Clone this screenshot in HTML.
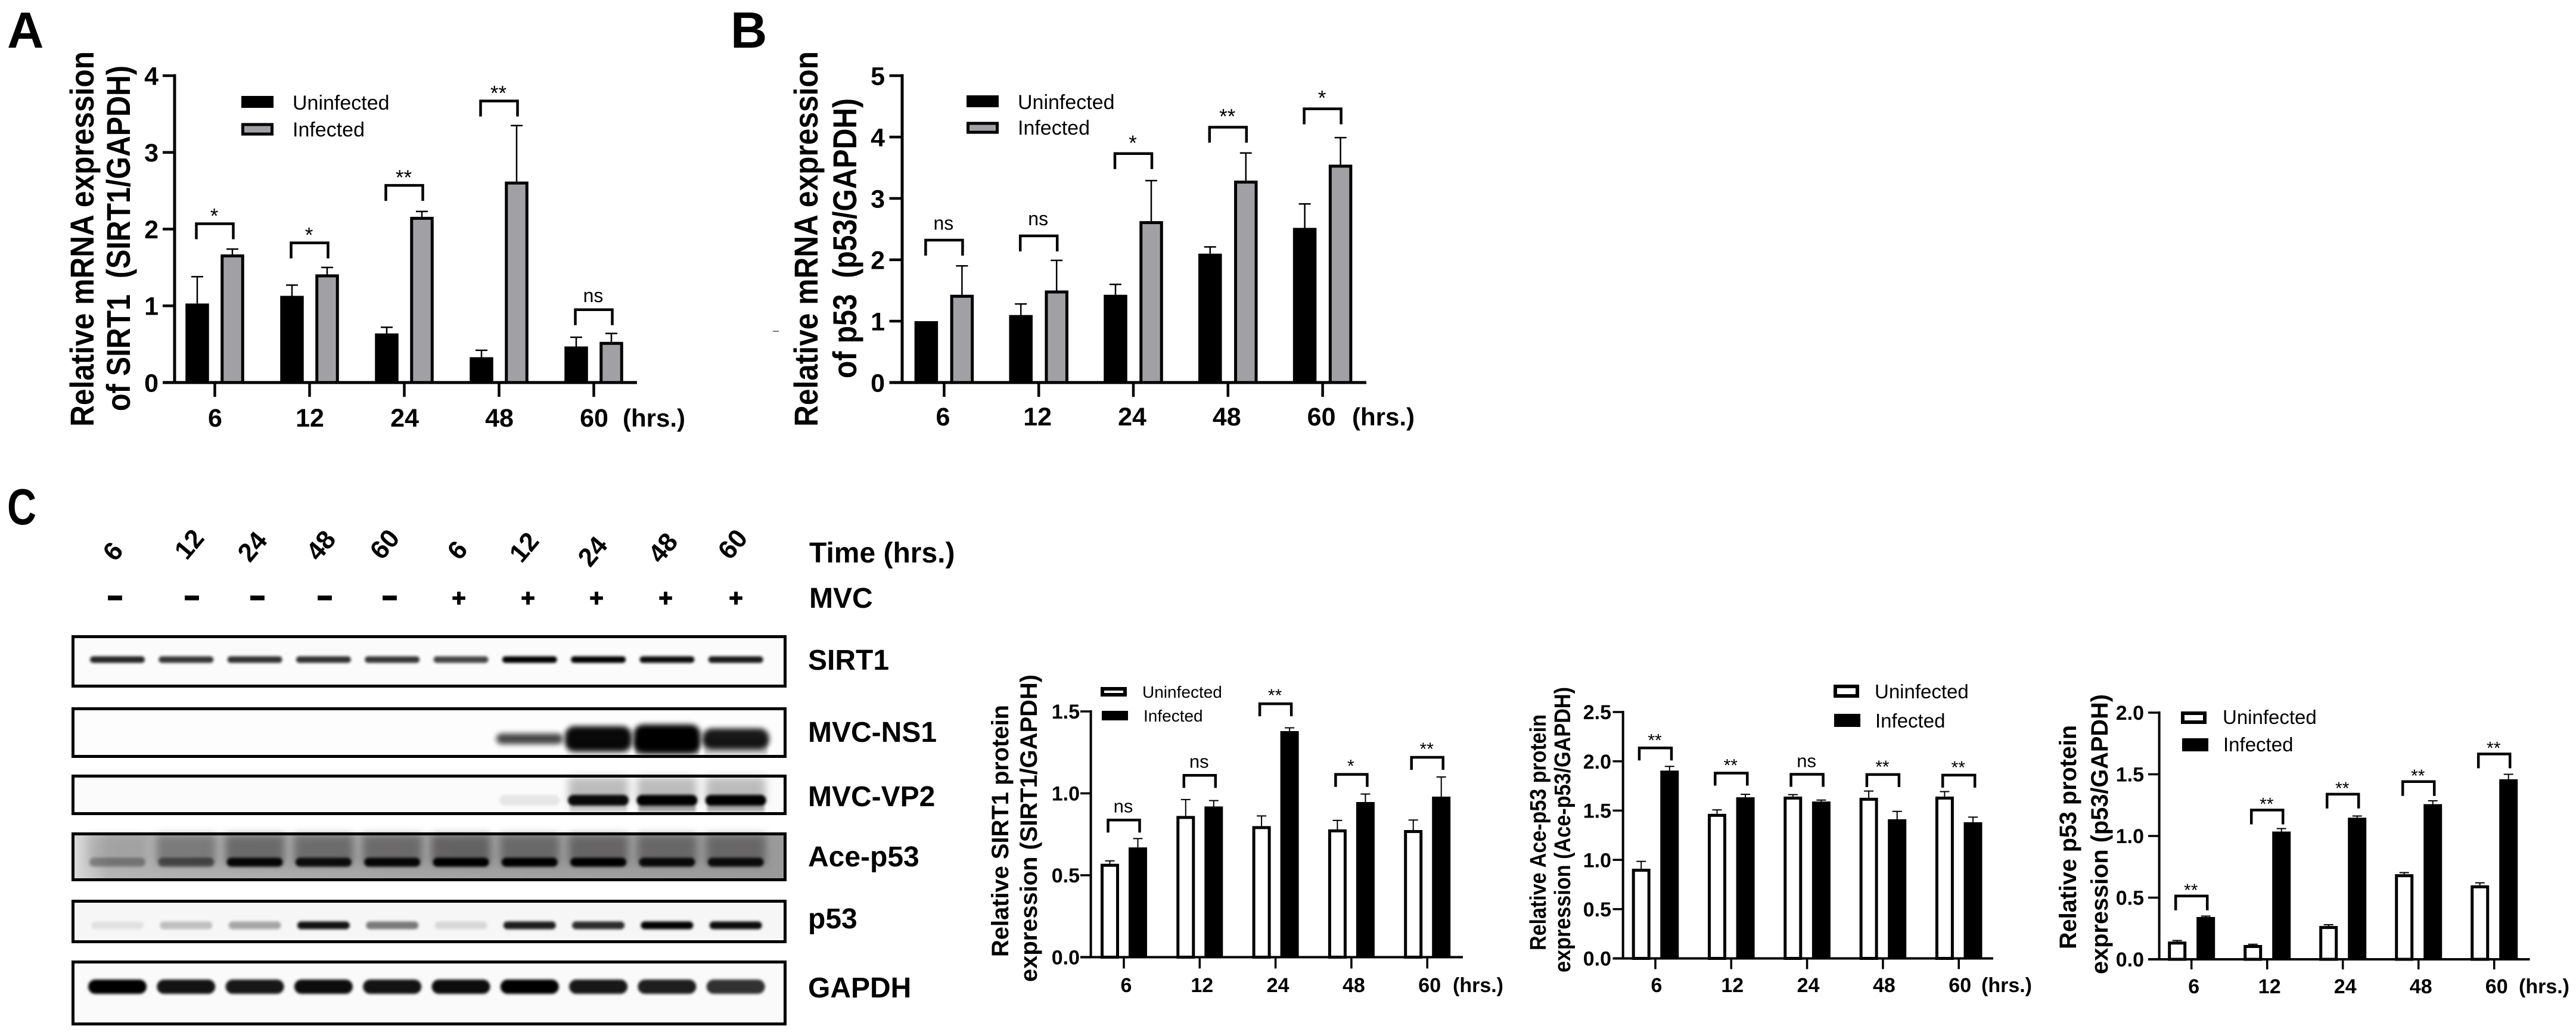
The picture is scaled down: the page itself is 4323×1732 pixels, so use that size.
<!DOCTYPE html>
<html lang="en">
<head>
<meta charset="utf-8">
<title>MVC infection: SIRT1, p53 and Ace-p53 expression</title>
<style>
html,body{margin:0;padding:0;background:#fff;}
svg{display:block;}
text{font-family:"Liberation Sans",Arial,sans-serif;fill:#000;}
.b{font-weight:700;}
.panel{font-weight:700;font-size:85px;}
.blot{font-weight:700;font-size:48px;}
.time{font-weight:700;font-size:44px;}
</style>
</head>
<body>
<svg id="figure" xmlns="http://www.w3.org/2000/svg" width="4323" height="1732" viewBox="0 0 4323 1732">
<defs>
<filter id="blur-sm" x="-20%" y="-100%" width="140%" height="300%"><feGaussianBlur stdDeviation="2.5"/></filter>
<filter id="blur-md" x="-20%" y="-80%" width="140%" height="260%"><feGaussianBlur stdDeviation="4.5"/></filter>
<filter id="blur-lg" x="-20%" y="-80%" width="140%" height="260%"><feGaussianBlur stdDeviation="7"/></filter>
<linearGradient id="ace-bg" x1="0" x2="1" y1="0" y2="0">
<stop offset="0" stop-color="#dcdcdc"/><stop offset="0.05" stop-color="#b4b4b4"/><stop offset="0.5" stop-color="#a4a4a4"/><stop offset="1" stop-color="#9a9a9a"/>
</linearGradient>
</defs>
<rect width="4323" height="1732" fill="#fff"/>

<text class="panel" x="12" y="80">A</text>
<text class="panel" x="1226" y="80">B</text>
<text class="panel" transform="translate(12,880) scale(0.8,1)">C</text>

<g id="chart-a">
<text class="b" font-size="56" transform="translate(157,716) rotate(-90)" textLength="630" lengthAdjust="spacingAndGlyphs">Relative mRNA expression</text>
<text class="b" font-size="56" transform="translate(218,690) rotate(-90)" textLength="580" lengthAdjust="spacingAndGlyphs">of SIRT1&#160;&#160;(SIRT1/GAPDH)</text>
<rect x="405" y="161" width="54" height="20" fill="#000"/>
<rect x="407.5" y="209" width="49" height="16" fill="#a1a1a5" stroke="#000" stroke-width="5"/>
<text x="491" y="184" font-size="34">Uninfected</text>
<text x="491" y="229" font-size="34">Infected</text>
<text class="b" x="1045" y="716" font-size="42">(hrs.)</text>
</g>

<g id="chart-b">
<text class="b" font-size="56" transform="translate(1372,716) rotate(-90)" textLength="630" lengthAdjust="spacingAndGlyphs">Relative mRNA expression</text>
<text class="b" font-size="56" transform="translate(1437,635) rotate(-90)" textLength="470" lengthAdjust="spacingAndGlyphs">of p53&#160;&#160;(p53/GAPDH)</text>
<rect x="1622" y="160" width="54" height="20" fill="#000"/>
<rect x="1624.5" y="207" width="49" height="15" fill="#a1a1a5" stroke="#000" stroke-width="5"/>
<text x="1708" y="183" font-size="34">Uninfected</text>
<text x="1708" y="226" font-size="34">Infected</text>
<text class="b" x="2269" y="714" font-size="42">(hrs.)</text>
<rect x="1297" y="555" width="10" height="2" fill="#777"/>
</g>

<g id="western-blot">
<g>
<text class="time" text-anchor="middle" transform="translate(201,935) rotate(-50)">6</text>
<text class="time" text-anchor="middle" transform="translate(329,923) rotate(-50)">12</text>
<text class="time" text-anchor="middle" transform="translate(435,927) rotate(-50)">24</text>
<text class="time" text-anchor="middle" transform="translate(550,925) rotate(-50)">48</text>
<text class="time" text-anchor="middle" transform="translate(657,923) rotate(-50)">60</text>
<text class="time" text-anchor="middle" transform="translate(779,933) rotate(-50)">6</text>
<text class="time" text-anchor="middle" transform="translate(891,928) rotate(-50)">12</text>
<text class="time" text-anchor="middle" transform="translate(1006,935) rotate(-50)">24</text>
<text class="time" text-anchor="middle" transform="translate(1124,929) rotate(-50)">48</text>
<text class="time" text-anchor="middle" transform="translate(1241,923) rotate(-50)">60</text>
</g>
<g font-size="40" font-weight="700" text-anchor="middle">
<text x="193" y="1014" stroke="#000" stroke-width="4">–</text>
<text x="322" y="1014" stroke="#000" stroke-width="4">–</text>
<text x="432" y="1014" stroke="#000" stroke-width="4">–</text>
<text x="545" y="1014" stroke="#000" stroke-width="4">–</text>
<text x="654" y="1014" stroke="#000" stroke-width="4">–</text>
<text x="770" y="1017" stroke="#000" stroke-width="1.5">+</text>
<text x="886" y="1017" stroke="#000" stroke-width="1.5">+</text>
<text x="1001" y="1017" stroke="#000" stroke-width="1.5">+</text>
<text x="1117" y="1017" stroke="#000" stroke-width="1.5">+</text>
<text x="1235" y="1017" stroke="#000" stroke-width="1.5">+</text>
</g>
<text class="blot" x="1358" y="944">Time (hrs.)</text>
<text class="blot" x="1358" y="1020">MVC</text>
<text class="blot" x="1356" y="1124">SIRT1</text>
<text class="blot" x="1356" y="1245">MVC-NS1</text>
<text class="blot" x="1356" y="1353">MVC-VP2</text>
<text class="blot" x="1356" y="1454">Ace-p53</text>
<text class="blot" x="1356" y="1558">p53</text>
<text class="blot" x="1356" y="1674">GAPDH</text>
<g id="blots"></g>
</g>

<g id="chart-c1">
<text class="b" font-size="40" transform="translate(1692,1606) rotate(-90)" textLength="423" lengthAdjust="spacingAndGlyphs">Relative SIRT1 protein</text>
<text class="b" font-size="40" transform="translate(1740,1648) rotate(-90)" textLength="516" lengthAdjust="spacingAndGlyphs">expression (SIRT1/GAPDH)</text>
<rect x="1850" y="1156" width="38" height="10" fill="#fff" stroke="#000" stroke-width="6"/>
<rect x="1849" y="1193" width="44" height="16" fill="#000"/>
<text x="1917" y="1171" font-size="28">Uninfected</text>
<text x="1919" y="1211" font-size="28">Infected</text>
<text class="b" x="2438" y="1665" font-size="34">(hrs.)</text>
</g>

<g id="chart-c2">
<text class="b" font-size="38" transform="translate(2594,1595) rotate(-90)" textLength="396" lengthAdjust="spacingAndGlyphs">Relative Ace-p53 protein</text>
<text class="b" font-size="38" transform="translate(2635,1632) rotate(-90)" textLength="479" lengthAdjust="spacingAndGlyphs">expression (Ace-p53/GAPDH)</text>
<rect x="3080" y="1152" width="37" height="16" fill="#fff" stroke="#000" stroke-width="6"/>
<rect x="3078" y="1198" width="44" height="22" fill="#000"/>
<text x="3146" y="1172" font-size="33">Uninfected</text>
<text x="3147" y="1221" font-size="33">Infected</text>
<text class="b" x="3325" y="1665" font-size="34">(hrs.)</text>
</g>

<g id="chart-c3">
<text class="b" font-size="40" transform="translate(3484,1593) rotate(-90)" textLength="376" lengthAdjust="spacingAndGlyphs">Relative p53 protein</text>
<text class="b" font-size="40" transform="translate(3537,1635) rotate(-90)" textLength="470" lengthAdjust="spacingAndGlyphs">expression (p53/GAPDH)</text>
<rect x="3663" y="1197" width="37" height="15" fill="#fff" stroke="#000" stroke-width="6"/>
<rect x="3662" y="1239" width="44" height="22" fill="#000"/>
<text x="3730" y="1215" font-size="33">Uninfected</text>
<text x="3731" y="1261" font-size="33">Infected</text>
<text class="b" x="4227" y="1667" font-size="34">(hrs.)</text>
</g>
</svg>

<script>
const hours = ['6', '12', '24', '48', '60'];

const aUninfected = [1.03, 1.13, 0.64, 0.33, 0.47];
const aUninfectedErr = [0.35, 0.14, 0.08, 0.09, 0.12];
const aInfected = [1.67, 1.41, 2.16, 2.62, 0.53];
const aInfectedErr = [0.07, 0.09, 0.07, 0.73, 0.11];
const aBrackets = [2.07, 1.82, 2.57, 3.67, 0.95];
const aSig = ['*', '*', '**', '**', 'ns'];
const aTicks = ['0', '1', '2', '3', '4'];

const bUninfected = [1.0, 1.10, 1.43, 2.10, 2.52];
const bUninfectedErr = [0, 0.18, 0.17, 0.11, 0.39];
const bInfected = [1.43, 1.50, 2.63, 3.29, 3.55];
const bInfectedErr = [0.47, 0.49, 0.66, 0.45, 0.44];
const bBrackets = [2.32, 2.39, 3.73, 4.16, 4.46];
const bSig = ['ns', 'ns', '*', '**', '*'];
const bTicks = ['0', '1', '2', '3', '4', '5'];

const c1Uninfected = [0.57, 0.862, 0.80, 0.78, 0.776];
const c1UninfectedErr = [0.018, 0.10, 0.062, 0.055, 0.061];
const c1Infected = [0.67, 0.92, 1.38, 0.947, 0.98];
const c1InfectedErr = [0.054, 0.036, 0.02, 0.049, 0.12];
const c1Brackets = [0.837, 1.11, 1.547, 1.116, 1.22];
const c1Sig = ['ns', 'ns', '**', '*', '**'];
const c1Ticks = ['0.0', '0.5', '1.0', '1.5'];

const c2Uninfected = [0.91, 1.467, 1.642, 1.63, 1.642];
const c2UninfectedErr = [0.075, 0.04, 0.02, 0.068, 0.051];
const c2Infected = [1.906, 1.635, 1.592, 1.412, 1.382];
const c2InfectedErr = [0.042, 0.03, 0.015, 0.08, 0.052];
const c2Brackets = [2.136, 1.88, 1.868, 1.866, 1.86];
const c2Sig = ['**', '**', 'ns', '**', '**'];
const c2Ticks = ['0.0', '0.5', '1.0', '1.5', '2.0', '2.5'];

const c3Uninfected = [0.144, 0.116, 0.27, 0.69, 0.60];
const c3UninfectedErr = [0.008, 0.006, 0.01, 0.013, 0.02];
const c3Infected = [0.343, 1.036, 1.148, 1.258, 1.46];
const c3InfectedErr = [0.007, 0.024, 0.014, 0.027, 0.04];
const c3Brackets = [0.513, 1.21, 1.339, 1.441, 1.665];
const c3Sig = ['**', '**', '**', '**', '**'];
const c3Ticks = ['0.0', '0.5', '1.0', '1.5', '2.0'];

/* blot band intensities per lane, 0..1 */
const sirt1Bands = [0.85, 0.78, 0.8, 0.8, 0.78, 0.72, 1, 1, 0.95, 0.9];
const ns1Bands = [0, 0, 0, 0, 0, 0, 0.72, 0.96, 1, 0.9];
const ns1Under = [0, 0, 0, 0, 0, 0, 0, 0.12, 0.45, 0.3];
const vp2Bands = [0, 0, 0, 0, 0, 0, 0.08, 0.95, 1, 1];
const vp2Smear = [0, 0, 0, 0, 0, 0, 0, 0.35, 0.35, 0.35];
const vp2Under = [0, 0, 0, 0, 0, 0, 0, 0.25, 0.5, 0.45];
const aceBands = [0.3, 0.5, 0.95, 0.9, 0.95, 1, 1, 1, 0.92, 0.9];
const aceSmear = [0.15, 0.5, 0.65, 0.62, 0.62, 0.7, 0.62, 0.66, 0.62, 0.62];
const p53Bands = [0.08, 0.22, 0.32, 0.92, 0.5, 0.12, 0.88, 0.82, 1, 0.95];
const gapdhBands = [1, 0.92, 0.9, 0.95, 0.92, 0.95, 1, 0.9, 0.88, 0.8];

const SVGNS = 'http://www.w3.org/2000/svg';
function make(tag, attrs, parent, content) {
  const node = document.createElementNS(SVGNS, tag);
  for (const k in attrs) node.setAttribute(k, attrs[k]);
  if (content !== undefined) node.textContent = content;
  parent.appendChild(node);
  return node;
}

function drawChart(cfg) {
  const root = document.getElementById(cfg.id);
  const yMax = Number(cfg.ticks[cfg.ticks.length - 1]);
  const yScale = v => cfg.y0 - (v / yMax) * (cfg.y0 - cfg.yTop);
  const xScale = i => cfg.x0 + i * cfg.step;
  const bw = cfg.barW;

  function bar(cx, value, style, series, i) {
    const top = yScale(value);
    const sw = cfg.sw;
    const rect = style === 'solid'
      ? make('rect', { x: cx - bw / 2, y: top, width: bw, height: cfg.y0 - top, fill: '#000' }, root)
      : make('rect', { x: cx - bw / 2 + sw / 2, y: top + sw / 2, width: bw - sw, height: Math.max(0, cfg.y0 - top - sw / 2), fill: style, stroke: '#000', 'stroke-width': sw }, root);
    
    
  }
  function errorBar(cx, value, err, series, i) {
    if (err <= 0) return;
    const top = yScale(value + err);
    const line = make('path', { d: 'M' + cx + ' ' + yScale(value) + 'V' + top + 'M' + (cx - cfg.cap) + ' ' + top + 'H' + (cx + cfg.cap), stroke: '#000', 'stroke-width': cfg.errW, fill: 'none' }, root);
    
    
  }

  hours.forEach((h, i) => {
    const cx = xScale(i);
    errorBar(cx - cfg.off, cfg.uninfected[i], cfg.uninfectedErr[i], 'uninfected', i);
    errorBar(cx + cfg.off, cfg.infected[i], cfg.infectedErr[i], 'infected', i);
    bar(cx - cfg.off, cfg.uninfected[i], cfg.uStyle, 'uninfected', i);
    bar(cx + cfg.off, cfg.infected[i], cfg.iStyle, 'infected', i);

    const by = yScale(cfg.brackets[i]);
    const br = make('path', { d: 'M' + (cx - cfg.brHalf) + ' ' + (by + cfg.brDrop) + 'V' + by + 'H' + (cx + cfg.brHalf) + 'V' + (by + cfg.brDrop), stroke: '#000', 'stroke-width': cfg.brW, fill: 'none' }, root);
    
    

    const isNs = cfg.sig[i] === 'ns';
    const fs = isNs ? cfg.nsFont : cfg.starFont;
    const cy = by - cfg.labelGap;
    const sig = make('text', { x: cx - 1, y: cy + (isNs ? 0.26 : 0.57) * fs, 'font-size': fs, 'text-anchor': 'middle' }, root, cfg.sig[i]);
    
    

    const t = make('rect', { x: cx - cfg.tickW / 2, y: cfg.y0, width: cfg.tickW, height: cfg.tickLen, fill: '#000' }, root);
    
    

    const lab = make('text', { x: cx + cfg.labShift, y: cfg.xLabY, 'font-size': cfg.xFont, 'font-weight': 700, 'text-anchor': 'middle' }, root, h);
    
    
  });

  const yAxis = make('rect', { x: cfg.axisX - cfg.axW / 2, y: cfg.yTop - cfg.axW / 2, width: cfg.axW, height: cfg.y0 - cfg.yTop + cfg.axW / 2, fill: '#000' }, root);
  
  
  const xAxis = make('rect', { x: cfg.xLeft, y: cfg.y0 - cfg.axW / 2, width: cfg.xRight - cfg.xLeft, height: cfg.axW, fill: '#000' }, root);
  
  

  cfg.ticks.forEach(tk => {
    const y = yScale(Number(tk));
    const t = make('rect', { x: cfg.xLeft, y: y - cfg.tickW / 2, width: cfg.axisX - cfg.xLeft, height: cfg.tickW, fill: '#000' }, root);
    
    
    const lab = make('text', { x: cfg.yLabX, y: y + 0.36 * cfg.yFont, 'font-size': cfg.yFont, 'font-weight': 700, 'text-anchor': 'end' }, root, tk);
    
    
  });
}

const GREY = '#a1a1a5';
drawChart({ id: 'chart-a', x0: 360.5, step: 159, axisX: 293, xLeft: 273, xRight: 1069, yTop: 127, y0: 642,
  ticks: aTicks, uninfected: aUninfected, uninfectedErr: aUninfectedErr, infected: aInfected, infectedErr: aInfectedErr,
  brackets: aBrackets, sig: aSig, uStyle: 'solid', iStyle: GREY, barW: 39.5, off: 29.5, sw: 5, cap: 10, errW: 2.5,
  brHalf: 31, brDrop: 26, brW: 4.5, labelGap: 21, nsFont: 32, starFont: 35, tickW: 4.5, tickLen: 24, axW: 5,
  xLabY: 716, xFont: 43, labShift: 0.5, yLabX: 266, yFont: 43 });
drawChart({ id: 'chart-b', x0: 1584.4, step: 158.8, axisX: 1514, xLeft: 1492.5, xRight: 2293, yTop: 127, y0: 642,
  ticks: bTicks, uninfected: bUninfected, uninfectedErr: bUninfectedErr, infected: bInfected, infectedErr: bInfectedErr,
  brackets: bBrackets, sig: bSig, uStyle: 'solid', iStyle: GREY, barW: 39.5, off: 30, sw: 5, cap: 10, errW: 2.5,
  brHalf: 31, brDrop: 26, brW: 4.5, labelGap: 26, nsFont: 32, starFont: 35, tickW: 4.5, tickLen: 24, axW: 5,
  xLabY: 714, xFont: 43, labShift: -2, yLabX: 1485, yFont: 43 });
drawChart({ id: 'chart-c1', x0: 1886, step: 127.3, axisX: 1830.6, xLeft: 1813, xRight: 2455, yTop: 1194, y0: 1606.4,
  ticks: c1Ticks, uninfected: c1Uninfected, uninfectedErr: c1UninfectedErr, infected: c1Infected, infectedErr: c1InfectedErr,
  brackets: c1Brackets, sig: c1Sig, uStyle: '#fff', iStyle: 'solid', barW: 31, off: 23.5, sw: 5, cap: 8, errW: 2,
  brHalf: 26.5, brDrop: 21, brW: 4.5, labelGap: 21, nsFont: 31, starFont: 30, tickW: 3.5, tickLen: 19, axW: 4,
  xLabY: 1665, xFont: 34, labShift: 4, yLabX: 1812, yFont: 34 });
drawChart({ id: 'chart-c2', x0: 2778, step: 127.3, axisX: 2723.7, xLeft: 2706.5, xRight: 3345, yTop: 1195, y0: 1608.5,
  ticks: c2Ticks, uninfected: c2Uninfected, uninfectedErr: c2UninfectedErr, infected: c2Infected, infectedErr: c2InfectedErr,
  brackets: c2Brackets, sig: c2Sig, uStyle: '#fff', iStyle: 'solid', barW: 31, off: 23.8, sw: 5, cap: 8, errW: 2,
  brHalf: 27, brDrop: 21, brW: 4.5, labelGap: 20, nsFont: 31, starFont: 30, tickW: 3.5, tickLen: 18, axW: 4,
  xLabY: 1665, xFont: 34, labShift: 2, yLabX: 2704, yFont: 34 });
drawChart({ id: 'chart-c3', x0: 3677.7, step: 127, axisX: 3623.6, xLeft: 3605, xRight: 4245.5, yTop: 1196, y0: 1610,
  ticks: c3Ticks, uninfected: c3Uninfected, uninfectedErr: c3UninfectedErr, infected: c3Infected, infectedErr: c3InfectedErr,
  brackets: c3Brackets, sig: c3Sig, uStyle: '#fff', iStyle: 'solid', barW: 31, off: 24, sw: 5, cap: 8, errW: 2,
  brHalf: 26.5, brDrop: 24, brW: 4.5, labelGap: 17, nsFont: 31, starFont: 30, tickW: 3.5, tickLen: 17, axW: 4,
  xLabY: 1667, xFont: 34, labShift: 4, yLabX: 3598, yFont: 34 });

/* ---------- western blots ---------- */
const blotRoot = document.getElementById('blots');
const laneX = i => 197 + i * 115.3;
function drawBlot(b) {
  const g = make('g', {}, blotRoot);
  
  
  const bg = make('rect', { x: 122, y: b.top + 2, width: 1196, height: b.bottom - b.top - 4, fill: b.bg }, g);
  
  
  if (b.smear) {
    b.smear.forEach((s, i) => {
      if (s <= 0) return;
      const sm = make('rect', { x: laneX(i) - 50, y: b.top + 4, width: 100, height: b.bandY - b.top, fill: '#4a4646', opacity: s, filter: 'url(#blur-lg)' }, g);
      
      
    });
  }
  if (b.under) {
    b.under.forEach((s, i) => {
      if (s <= 0) return;
      const un = make('rect', { x: laneX(i) - b.bandW / 2 + 3, y: b.bandY, width: b.bandW - 6, height: b.bottom - b.bandY - 6, fill: '#4a4646', opacity: s, filter: 'url(#blur-sm)' }, g);
      
      
    });
  }
  b.bands.forEach((v, i) => {
    if (v <= 0) return;
    const h = b.bandH * (b.grow ? v * v * v : 1);
    const band = make('rect', { x: laneX(i) - b.bandW / 2, y: b.bandY - h / 2, width: b.bandW, height: h, rx: Math.min(h / 2, 16), fill: '#000', opacity: v, filter: b.blur }, g);
    
    
  });
  const frame = make('rect', { x: 122.5, y: b.top + 2.5, width: 1195, height: b.bottom - b.top - 5, fill: 'none', stroke: '#000', 'stroke-width': 5 }, g);
  
  
}
drawBlot({ name: 'sirt1', top: 1066, bottom: 1154, bg: '#fbfbfb', bands: sirt1Bands, bandY: 1107, bandH: 11, bandW: 92, blur: 'url(#blur-sm)' });
drawBlot({ name: 'mvc-ns1', top: 1187, bottom: 1272, bg: '#fdfdfd', under: ns1Under, bands: ns1Bands, bandY: 1240, bandH: 48, bandW: 112, grow: true, blur: 'url(#blur-md)' });
drawBlot({ name: 'mvc-vp2', top: 1300, bottom: 1368, bg: '#fbfbfb', smear: vp2Smear, under: vp2Under, bands: vp2Bands, bandY: 1343, bandH: 18, bandW: 102, blur: 'url(#blur-sm)' });
drawBlot({ name: 'ace-p53', top: 1397, bottom: 1479, bg: 'url(#ace-bg)', smear: aceSmear, bands: aceBands, bandY: 1447, bandH: 15, bandW: 94, blur: 'url(#blur-sm)' });
drawBlot({ name: 'p53', top: 1510, bottom: 1583, bg: '#f6f6f6', bands: p53Bands, bandY: 1553, bandH: 13, bandW: 88, blur: 'url(#blur-sm)' });
drawBlot({ name: 'gapdh', top: 1612, bottom: 1721, bg: '#fafafa', bands: gapdhBands, bandY: 1656, bandH: 24, bandW: 98, blur: 'url(#blur-sm)' });
</script>
</body>
</html>
